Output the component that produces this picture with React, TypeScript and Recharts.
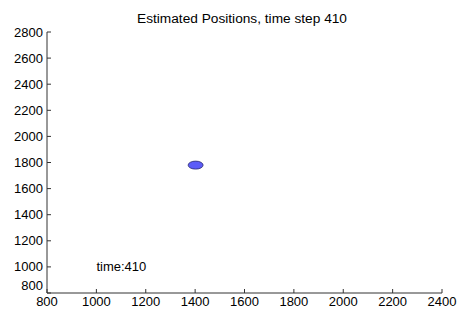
import React from "react";
import { ScatterChart, Scatter, XAxis, YAxis } from "recharts";

const title = "Estimated Positions, time step 410";
const xTicks = [800, 1000, 1200, 1400, 1600, 1800, 2000, 2200, 2400];
const yTicks = [800, 1000, 1200, 1400, 1600, 1800, 2000, 2200, 2400, 2600, 2800];
const estimates = [{ x: 1402, y: 1780 }];
const annotations = [{ x: 1000, y: 1000, label: "time:410" }];

const FONT = "'Liberation Sans', Arial, sans-serif";

const XTick = (props: any) => {
  const { x, y, payload } = props;
  return (
    <g>
      <line x1={x} y1={y} x2={x} y2={y - 4} stroke="#333" strokeWidth={1} />
      <text x={x} y={y + 13} textAnchor="middle" fontSize={13} fontFamily={FONT} fill="#000">
        {payload.value}
      </text>
    </g>
  );
};

const YTick = (props: any) => {
  const { x, y, payload, index } = props;
  const shift = index === 0 ? -8 : 0;
  return (
    <g>
      <line x1={x} y1={y} x2={x + 4} y2={y} stroke="#333" strokeWidth={1} />
      <text x={x - 4} y={y + 4.5 + shift} textAnchor="end" fontSize={13} fontFamily={FONT} fill="#000">
        {payload.value}
      </text>
    </g>
  );
};

const EllipseShape = (props: any) => {
  const { cx, cy } = props;
  return <ellipse cx={cx} cy={cy} rx={7.5} ry={4} fill="#5c5cf8" stroke="#2b2b70" strokeWidth={0.8} />;
};

const TextShape = (props: any) => {
  const { cx, cy, payload } = props;
  return (
    <text x={cx} y={cy + 4.5} textAnchor="start" fontSize={13} fontFamily={FONT} fill="#000">
      {payload.label}
    </text>
  );
};

export default function App() {
  return (
    <div style={{ position: "absolute", left: 0, top: 0, width: 460, height: 315, background: "#fff" }}>
      <svg width={460} height={315} style={{ position: "absolute", left: 0, top: 0 }}>
        <text x={242} y={23} textAnchor="middle" fontSize={13.7} fontFamily={FONT} fill="#000">
          {title}
        </text>
      </svg>
      <div style={{ position: "absolute", left: 0, top: 0 }}>
        <ScatterChart width={460} height={315} margin={{ top: 32, right: 18, bottom: 2, left: 27 }}>
          <XAxis
            type="number"
            dataKey="x"
            domain={[800, 2400]}
            ticks={xTicks}
            interval={0}
            height={20}
            tickSize={0}
            tickMargin={0}
            tickLine={false}
            axisLine={{ stroke: "#333" }}
            tick={<XTick />}
            allowDataOverflow
          />
          <YAxis
            type="number"
            dataKey="y"
            domain={[800, 2800]}
            ticks={yTicks}
            interval={0}
            width={20}
            tickSize={0}
            tickMargin={0}
            tickLine={false}
            axisLine={{ stroke: "#333" }}
            tick={<YTick />}
            allowDataOverflow
          />
          <Scatter data={estimates} shape={<EllipseShape />} isAnimationActive={false} />
          <Scatter data={annotations} shape={<TextShape />} isAnimationActive={false} />
        </ScatterChart>
      </div>
    </div>
  );
}
